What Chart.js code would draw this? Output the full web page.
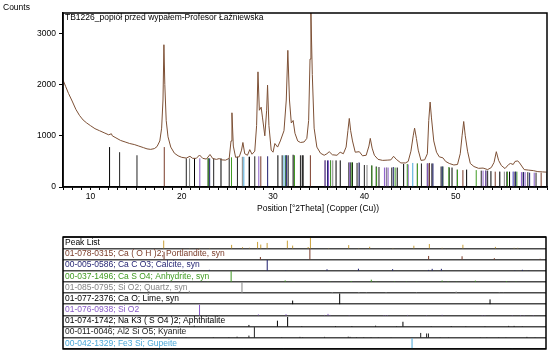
<!DOCTYPE html>
<html><head><meta charset="utf-8">
<script src="https://cdn.jsdelivr.net/npm/chart.js@4.4.0/dist/chart.umd.min.js"></script>
<style>
body{margin:0;width:550px;height:356px;background:#fff;position:relative;overflow:hidden;font-family:"Liberation Sans",Arial,sans-serif}
canvas{position:absolute;left:0}
#c1{top:0}
#c2{top:230px}
.t{position:absolute;white-space:nowrap;color:#000;font-size:8.5px;line-height:10px}
</style></head><body>
<canvas id="c1" width="550" height="215"></canvas>
<canvas id="c2" width="550" height="126"></canvas>
<div class="t" style="left:3px;top:2px">Counts</div>
<div class="t" style="left:65px;top:12px">TB1226_popiół przed wypałem-Profesor Łaźniewska</div>
<div class="t" style="left:257px;top:203px">Position [°2Theta] (Copper (Cu))</div>
<script>
// ---------- data ----------
const yTickValues = [0, 1000, 2000, 3000];
const xLabelValues = [10, 20, 30, 40, 50];
const patternX = [7.0,7.3,7.6,8.0,8.4,8.8,9.2,9.6,10.0,10.5,11.0,11.5,12.0,12.3,12.4,12.8,13.3,13.8,14.3,14.8,15.3,15.8,16.2,16.6,17.0,17.3,17.6,17.8,17.95,18.05,18.15,18.3,18.5,18.8,19.2,19.6,20.0,20.5,20.9,21.2,21.6,21.95,22.3,22.7,23.1,23.4,23.8,24.1,24.4,24.8,25.2,25.4,25.5,25.65,25.9,26.3,26.55,26.7,26.9,27.2,27.45,27.7,28.0,28.2,28.35,28.5,28.7,28.85,29.1,29.3,29.4,29.55,29.8,30.0,30.2,30.5,30.8,31.2,31.45,31.62,31.8,32.0,32.2,32.4,32.7,33.0,33.4,33.7,33.9,34.05,34.15,34.3,34.5,34.8,35.2,35.6,35.9,36.15,36.5,37.0,37.35,37.7,38.0,38.2,38.35,38.5,38.7,39.0,39.45,39.8,40.2,40.5,40.65,40.85,41.1,41.5,42.0,42.5,42.9,43.2,43.5,44.0,44.5,44.8,45.1,45.35,45.5,45.7,45.9,46.2,46.6,46.9,47.05,47.2,47.35,47.6,47.9,48.2,48.6,48.9,49.3,49.8,50.2,50.5,50.7,50.88,51.05,51.3,51.6,52.0,52.5,53.0,53.5,53.9,54.2,54.45,54.7,55.0,55.4,55.8,56.0,56.3,56.5,56.8,57.0,57.5,58.0,58.5,59.0,59.5,60.0];
const patternY = [2090,1960,1830,1680,1520,1400,1310,1250,1200,1140,1100,1060,1020,1040,1000,960,910,880,850,830,800,770,745,735,750,790,900,1150,1700,2780,2000,1300,980,780,660,610,580,565,600,560,560,625,560,545,635,555,540,555,530,525,560,900,1450,800,580,590,720,870,650,620,730,640,700,1200,2250,1500,1560,1350,1000,1500,1990,1200,720,680,850,780,900,1100,1700,2670,1700,1250,1300,1050,900,870,880,950,1300,2500,3400,2200,1150,780,660,620,650,690,630,620,680,650,780,1100,1340,1100,900,680,690,610,620,800,950,760,620,540,520,525,530,600,540,470,470,500,700,1000,1150,950,720,520,530,650,1300,1660,1350,900,680,590,570,500,460,430,440,650,1000,1280,1000,700,460,400,365,370,340,380,480,690,520,420,360,440,460,440,500,510,470,340,330,320,300,295,290];

const peakListPos = [18.05,20.9,21.95,23.1,25.5,26.7,27.45,28.35,28.7,29.4,31.62,32.2,33.9,34.15,36.15,38.35,39.45,40.65,43.2,45.5,47.2,48.6,50.88,54.45,56.5,56.9];
const peakListInt = [73,2,3,3,32,10,5,60,35,50,72,25,12,100,3,30,3,14,3,24,40,4,33,13,4,4];

const portlanditePos = [18.09,28.66,34.09,47.12,50.79,54.33,59.36];
const portlanditeInt = [72,23,100,33,30,12,6];
const portlanditeTop = [780,600,620,470,330,300,280];

const calcitePos = [23.06,29.41,31.44,35.97,39.42,43.17,47.12,47.51,48.52,56.57,57.41,58.1];
const calciteInt = [8,100,3,13,18,14,7,17,17,3,8,2];
const calciteTop = [560,600,620,520,480,390,460,460,400,300,290,280];

const anhydritePos = [22.9,25.45,31.38,32.35,36.3,38.63,40.83,41.34,43.37,44.7,45.81,48.6,49.25,50.2,52.25,55.67,56.7];
const anhydriteInt = [4,100,13,3,3,8,20,5,4,3,3,12,5,3,11,7,3];
const anhydriteTop = [560,580,620,620,520,480,420,380,380,450,460,400,390,340,330,300,300];

const quartzPos = [20.86,26.64,36.54,39.47,40.29,42.45,45.79,50.14,54.87,55.33,59.96];
const quartzInt = [20,100,8,8,4,6,4,13,4,2,9];
const quartzTop = [560,590,520,470,430,380,460,340,300,300,270];

const limePos = [32.2,37.36,53.86];
const limeInt = [34,100,45];
const limeTop = [630,520,310];

const silicaPos = [21.98,28.44,31.47,35.7,36.08,36.3,38.4,42.2,42.4,42.6,44.8,46.9,48.6,53.0,53.3,56.3,57.2,57.6,58.6];
const silicaInt = [100,9,11,4,14,4,3,3,3,3,4,3,5,3,3,3,3,3,3];
const silicaTop = [560,600,620,520,520,520,480,380,380,380,440,460,400,320,320,300,290,290,280];

const aphthitalitePos = [12.1,21.4,22.9,24.3,27.4,30.53,31.65,33.2,36.9,38.7,41.3,43.6,44.3,47.4,49.6,51.2,53.3,55.9,56.5,57.4];
const aphthitaliteInt = [8,8,3,3,15,55,90,4,5,5,8,3,45,3,5,3,3,6,6,3];
const aphthitaliteTop = [780,560,560,560,590,620,620,620,520,480,400,380,450,460,380,340,320,300,300,290];

const kyanitePos = [13.2,15.1,20.5,23.5,25.2,26.1,27.4,28.0,31.0,33.0,33.3,35.7,38.3,38.5,39.2,40.0,40.8,41.6,43.0,46.25,46.9,47.1,48.4,49.3,52.8,53.5,54.8,55.6,57.9,58.8];
const kyaniteInt = [3,3,5,5,5,10,20,100,5,8,5,8,10,8,5,5,5,3,3,45,40,40,3,3,3,3,3,3,8,3];
const kyaniteTop = [680,620,560,560,560,590,590,600,620,620,620,520,480,480,470,430,420,390,380,460,460,460,400,380,320,320,300,300,290,280];

const gupeitePos = [26.8,31.2,45.3,56.3];
const gupeiteInt = [3,5,100,6];
const gupeiteTop = [590,620,470,300];

const rowLabels = ["Peak List",
  "01-078-0315; Ca ( O H )2; Portlandite, syn",
  "00-005-0586; Ca C O3; Calcite, syn",
  "00-037-1496; Ca S O4; Anhydrite, syn",
  "01-085-0795; Si O2; Quartz, syn",
  "01-077-2376; Ca O; Lime, syn",
  "01-076-0938; Si O2",
  "01-074-1742; Na K3 ( S O4 )2; Aphthitalite",
  "00-011-0046; Al2 Si O5; Kyanite",
  "00-042-1329; Fe3 Si; Gupeite"];
const rowColors = ["#000000","#7a3b28","#1e1e6e","#3f9a22","#858585","#000000","#8a5cc8","#000000","#222222","#4aa8d8"];
const peakListColor = "#c9a03a";

// ---------- build ----------
const phases = [
  [portlanditePos, portlanditeInt, portlanditeTop],
  [calcitePos, calciteInt, calciteTop],
  [anhydritePos, anhydriteInt, anhydriteTop],
  [quartzPos, quartzInt, quartzTop],
  [limePos, limeInt, limeTop],
  [silicaPos, silicaInt, silicaTop],
  [aphthitalitePos, aphthitaliteInt, aphthitaliteTop],
  [kyanitePos, kyaniteInt, kyaniteTop],
  [gupeitePos, gupeiteInt, gupeiteTop]
];
function sticks(pos, h, base, scale) {
  const d = [];
  pos.forEach((p, i) => { d.push({x:p, y:base}, {x:p, y:base + h[i]*scale}, {x:p, y:null}); });
  return d;
}
const lineDs = (data, color, w) => ({data, borderColor:color, borderWidth:w, pointRadius:0, spanGaps:false, tension:0, fill:false});
const font = {family:"'Liberation Sans', Arial, sans-serif", size:8.5};
const boxPlugin = {id:'box', afterDraw(c){const a=c.chartArea,x=c.ctx;x.save();x.strokeStyle='#000';x.lineWidth=1.5;x.strokeRect(a.left,a.top,a.right-a.left,a.bottom-a.top);x.restore();}};

const topDatasets = [lineDs(patternX.map((x,i)=>({x, y:patternY[i]})), '#7d5035', 1)];
phases.forEach((ph, k) => topDatasets.push(lineDs(sticks(ph[0], ph[2], 0, 1), rowColors[k+1], 1)));

new Chart(document.getElementById('c1'), {
  type:'line',
  data:{datasets:topDatasets},
  options:{
    responsive:false, animation:false, devicePixelRatio:1,
    layout:{padding:{top:13, right:3, left:0, bottom:0}},
    plugins:{legend:{display:false}, tooltip:{enabled:false}},
    scales:{
      x:{type:'linear', min:7, max:60, afterFit:s=>{s.height=28},
         ticks:{stepSize:1, autoSkip:false, maxRotation:0, padding:2, font, color:'#000',
                callback:v=> xLabelValues.includes(v) ? String(v) : ''},
         grid:{drawOnChartArea:false, drawTicks:true, tickLength:3, color:'#000'},
         border:{color:'#000', width:1.5}},
      y:{type:'linear', min:0, max:3400, afterFit:s=>{s.width=63},
         afterBuildTicks:s=>{s.ticks=yTickValues.map(v=>({value:v}))},
         ticks:{padding:3, font, color:'#000', callback:v=>String(v)},
         grid:{drawOnChartArea:false, drawTicks:true, tickLength:4, color:'#000'},
         border:{color:'#000', width:1.5}}
    }
  },
  plugins:[boxPlugin]
});

const botDatasets = [lineDs(sticks(peakListPos, peakListInt, 9, 0.0095), peakListColor, 1)];
phases.forEach((ph, k) => botDatasets.push(lineDs(sticks(ph[0], ph[1], 8-k, 0.0095), rowColors[k+1], 1)));
const rowLines = [0,1,2,3,4,5,6,7,8,9,10];
const rowCenters = [9.5,8.5,7.5,6.5,5.5,4.5,3.5,2.5,1.5,0.5];

new Chart(document.getElementById('c2'), {
  type:'line',
  data:{datasets:botDatasets},
  options:{
    responsive:false, animation:false, devicePixelRatio:1,
    layout:{padding:{top:6, right:4, left:63, bottom:5}},
    plugins:{legend:{display:false}, tooltip:{enabled:false}},
    scales:{
      x:{type:'linear', min:7, max:60, display:false},
      y:{type:'linear', min:0, max:10, afterFit:s=>{s.width=0},
         afterBuildTicks:s=>{s.ticks=rowLines.map(v=>({value:v}))},
         ticks:{display:false, autoSkip:false}, grid:{color:'#4a4a4a', lineWidth:1.5, drawTicks:false}, border:{display:false}},
      yl:{type:'linear', position:'left', min:0, max:10, z:1, afterFit:s=>{s.width=0},
         afterBuildTicks:s=>{s.ticks=rowCenters.map(v=>({value:v}))},
         ticks:{mirror:true, autoSkip:false, padding:2, font, color:ctx=>rowColors[Math.round(9.5-ctx.tick.value)], callback:v=>rowLabels[Math.round(9.5-v)]},
         grid:{display:false}, border:{display:false}}
    }
  },
  plugins:[boxPlugin]
});
</script>
</body></html>
